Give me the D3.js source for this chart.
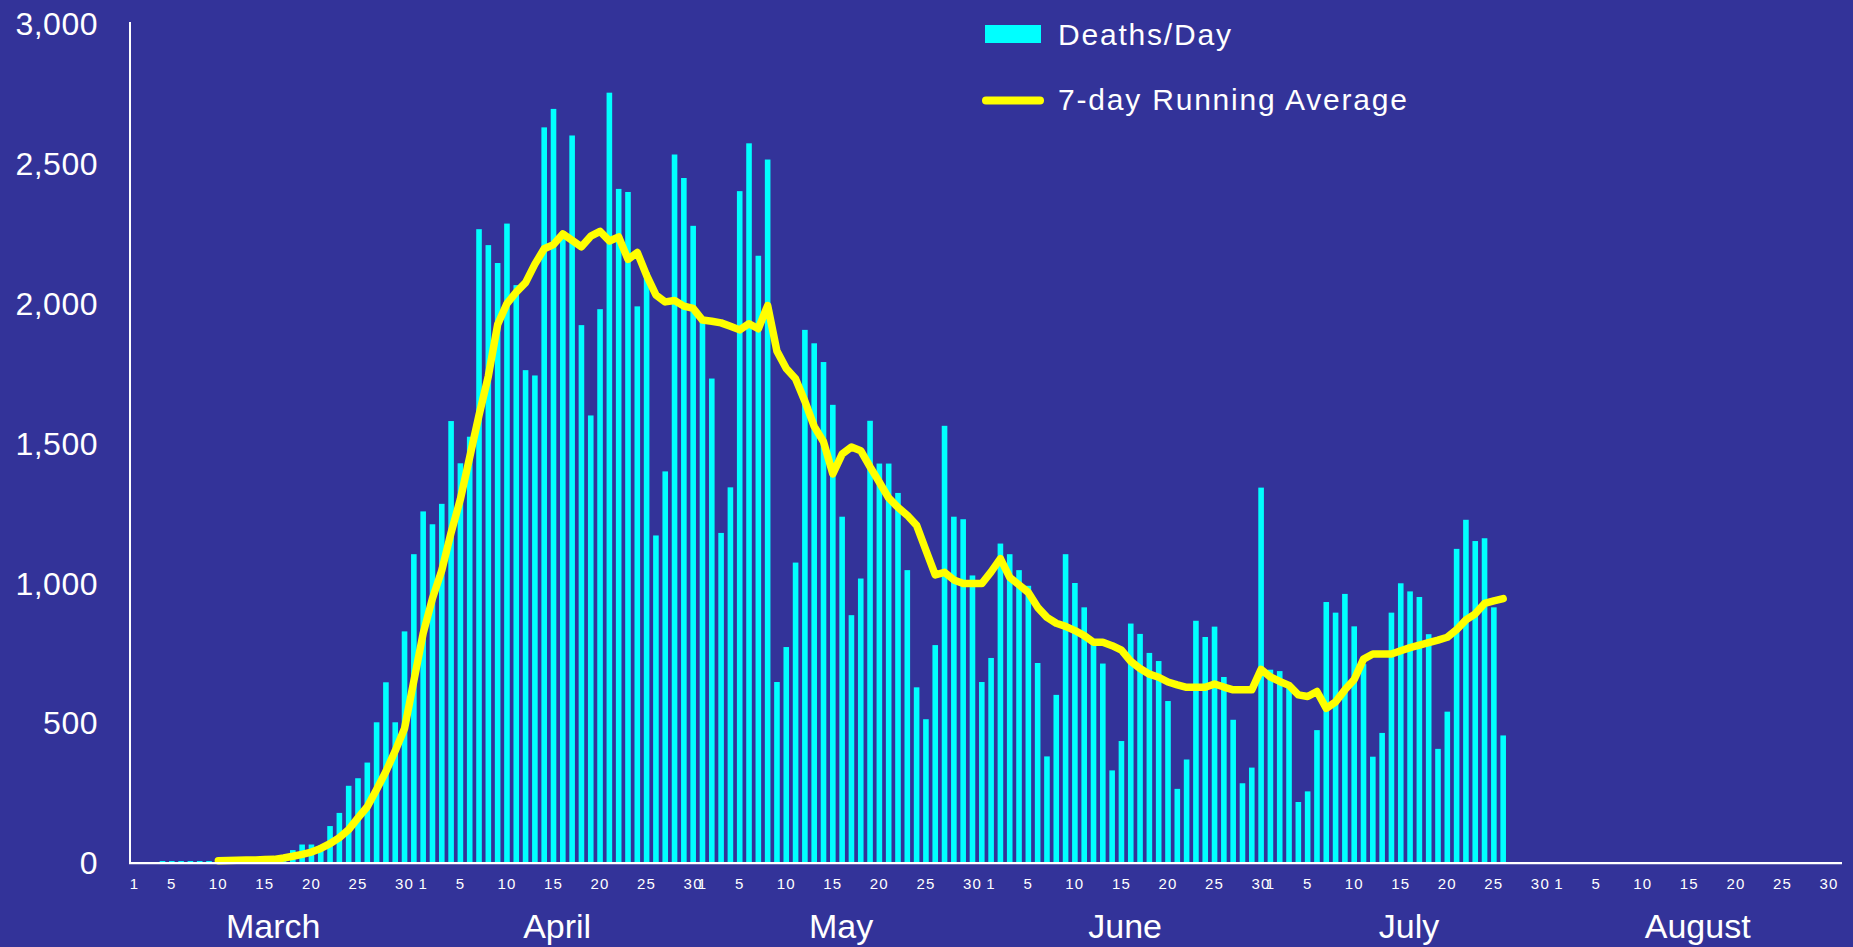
<!DOCTYPE html>
<html><head><meta charset="utf-8">
<script src="https://cdn.jsdelivr.net/npm/d3@7"></script>
<style>html,body{margin:0;padding:0;background:#333399;overflow:hidden}</style>
</head><body><svg id="c" width="1853" height="947"></svg>
<script>
// ---- data ----
const barStart = "2020-03-04";
const deathsPerDay = [
  6,6,6,6,6,6,                       // Mar 4-9
  6,8,8,10,10,12,14,20,              // Mar 10-17
  45,65,65,62,131,178,275,302,358,502,645,502,827,1103,   // Mar 18-31
  1256,1210,1283,1579,1428,1523,2265,2208,2144,2285,      // Apr 1-10
  2065,1761,1742,2629,2695,2257,2600,1922,1599,1979,      // Apr 11-20
  2753,2409,2398,1989,2112,1170,1399,2532,2448,2277,      // Apr 21-30
  1942,1731,1179,1342,2401,2572,2170,2514,646,771,        // May 1-10
  1073,1905,1857,1790,1637,1237,885,1016,1580,1427,       // May 11-20
  1427,1322,1046,627,513,778,1562,1237,1228,1027,646,     // May 21-31
  732,1141,1103,1046,990,714,380,600,1103,1000,           // Jun 1-10
  913,785,712,330,435,855,818,750,721,578,                // Jun 11-20
  264,369,865,807,844,664,511,284,340,1341,               // Jun 21-30
  690,685,629,217,255,474,932,894,961,845,                // Jul 1-10
  710,379,464,894,999,970,950,817,407,540,                // Jul 11-20
  1122,1226,1150,1160,913,455                             // Jul 21-26
];
const avgStart = "2020-03-10";
const runningAvg = [
  7,8,9,10,10,11,12,17,23,30,38,51,68,90,118,160,200,262,326,400,480,650,   // Mar 10-31
  820,945,1045,1180,1300,1450,1600,1740,1924,1999,                          // Apr 1-10
  2040,2074,2140,2195,2210,2248,2225,2202,2240,2257,                        // Apr 11-20
  2223,2237,2157,2182,2100,2030,2005,2010,1990,1982,                        // Apr 21-30
  1940,1936,1930,1918,1905,1927,1909,1992,1829,1767,                        // May 1-10
  1730,1650,1560,1505,1390,1461,1486,1473,1415,1360,                        // May 11-20
  1304,1270,1242,1206,1117,1029,1038,1011,998,998,998,                      // May 21-31
  1040,1087,1020,993,966,913,877,856,845,830,                               // Jun 1-10
  812,788,788,776,760,720,694,674,663,646,                                  // Jun 11-20
  636,627,627,627,639,628,618,618,618,691,                                  // Jun 21-30
  664,648,634,600,594,612,552,575,618,655,                                  // Jul 1-10
  728,746,746,746,758,769,778,787,796,806,                                  // Jul 11-20
  833,868,890,927,936,944                                                   // Jul 21-26
];
const months = ["March","April","May","June","July","August"];
const monthStarts = ["2020-03-01","2020-04-01","2020-05-01","2020-06-01","2020-07-01","2020-08-01"];
const dayTickLabels = [1,5,10,15,20,25,30];
const yTicks = [0,500,1000,1500,2000,2500,3000];
const legendLabels = ["Deaths/Day","7-day Running Average"];

// ---- chart ----
const parse = d3.utcParse("%Y-%m-%d");
const origin = parse(monthStarts[0]);
const dayIdx = dt => d3.utcDay.count(origin, dt);
const svg = d3.select("#c");
const W = 1853, H = 947;
svg.append("rect").attr("width", W).attr("height", H).attr("fill", "#333399");

const x = d3.scaleLinear().domain([-0.38, 183.5]).range([130, 1842]);
const y = d3.scaleLinear().domain([0, 3000]).range([862.7, 23.6]);

const b0 = dayIdx(parse(barStart));
const a0 = dayIdx(parse(avgStart));
const bars = deathsPerDay.map((v, i) => ({d: b0 + i, v}));
const avg = runningAvg.map((v, i) => ({d: a0 + i, v}));

const font = "'Liberation Sans', Arial, Helvetica, sans-serif";
const bw = 5.6;

// bars
svg.append("g").selectAll("rect").data(bars).join("rect")
  .attr("x", p => x(p.d) + 1 - bw / 2)
  .attr("y", p => y(p.v))
  .attr("width", bw)
  .attr("height", p => y(0) - y(p.v))
  .attr("fill", "#00ffff");

// line
svg.append("path").datum(avg)
  .attr("d", d3.line().x(p => x(p.d) + 1).y(p => y(p.v)))
  .attr("fill", "none").attr("stroke", "#ffff00")
  .attr("stroke-width", 7.5).attr("stroke-linejoin", "round").attr("stroke-linecap", "round");

// axes lines
svg.append("line").attr("x1", 130).attr("x2", 130).attr("y1", 22).attr("y2", y(0) + 1)
  .attr("stroke", "#fff").attr("stroke-width", 2);
svg.append("line").attr("x1", 129).attr("x2", x.range()[1]).attr("y1", y(0) + 0.5).attr("y2", y(0) + 0.5)
  .attr("stroke", "#fff").attr("stroke-width", 2.2);

// y tick labels
svg.append("g").selectAll("text").data(yTicks).join("text")
  .attr("x", 98).attr("y", v => y(v)).attr("dy", "0.36em")
  .attr("text-anchor", "end").attr("fill", "#fff")
  .attr("font-family", font).attr("font-size", 32).attr("letter-spacing", 0.5)
  .text(d3.format(","));

// day tick labels
const ticks = [];
monthStarts.forEach(ms => {
  const m = parse(ms);
  dayTickLabels.forEach(t => ticks.push({d: dayIdx(d3.utcDay.offset(m, t - 1)), t}));
});
svg.append("g").selectAll("text").data(ticks).join("text")
  .attr("x", p => x(p.d) + 1).attr("y", 889)
  .attr("text-anchor", "middle").attr("fill", "#fff")
  .attr("font-family", font).attr("font-size", 15).attr("letter-spacing", 1.2)
  .text(p => p.t);

// month labels
svg.append("g").selectAll("text").data(months).join("text")
  .attr("x", (mname, i) => {
    const s = parse(monthStarts[i]);
    const e = d3.utcMonth.offset(s, 1);
    return x((dayIdx(s) + dayIdx(e) - 1) / 2);
  })
  .attr("y", 938).attr("text-anchor", "middle").attr("fill", "#fff")
  .attr("font-family", font).attr("font-size", 34)
  .text(mname => mname);

// legend
const lg = svg.append("g");
lg.append("rect").attr("x", 985).attr("y", 25).attr("width", 56).attr("height", 18).attr("fill", "#00ffff");
lg.append("line").attr("x1", 986).attr("x2", 1040).attr("y1", 100.5).attr("y2", 100.5)
  .attr("stroke", "#ffff00").attr("stroke-width", 8).attr("stroke-linecap", "round");
lg.selectAll("text").data(legendLabels).join("text")
  .attr("x", 1058).attr("y", (t, i) => i === 0 ? 44.5 : 110)
  .attr("fill", "#fff").attr("font-family", font).attr("font-size", 30).attr("letter-spacing", 1.8)
  .text(t => t);
</script></body></html>
